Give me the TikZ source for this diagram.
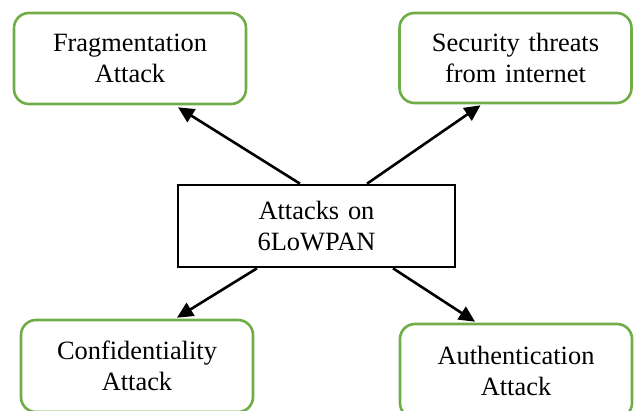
\documentclass[tikz,border=0pt]{standalone}
\usepackage{fontspec}
\setmainfont{Liberation Serif}
\usetikzlibrary{arrows.meta,calc}
\definecolor{boxgreen}{HTML}{70AD47}
\tikzset{
  leaf/.style={draw=boxgreen, line width=2.6pt, rounded corners=15pt, fill=white,
    inner sep=0pt, minimum width=232pt, text width=228pt, align=center,
    font=\fontsize{26.4}{30.4}\selectfont},
  hub/.style={draw=black, line width=2.6pt, fill=white, inner sep=0pt,
    minimum width=277pt, minimum height=82pt, text width=270pt, align=center,
    font=\fontsize{26.4}{30.4}\selectfont},
  link/.style={line width=2.6pt, -{Triangle[length=16pt,width=15pt]}}
}
\begin{document}
\begin{tikzpicture}[x=1pt,y=-1pt]
  \useasboundingbox (0,0) rectangle (639,411);
  \clip (0,0) rectangle (639,411);

  % centre topic
  \node[hub] (hub) at (316.5,226) {Attacks on\\6LoWPAN};

  % the four attack categories
  \node[leaf, minimum height=91pt] (frag) at (130,58.5) {Fragmentation\\Attack};
  \node[leaf, minimum height=90pt] (sec)  at (515.5,58) {Security threats\\from internet};
  \node[leaf, minimum height=92pt] (conf) at (137,366) {Confidentiality\\Attack};
  \node[leaf, minimum height=94pt] (auth) at (516,371) {Authentication\\Attack};

  % connectors from the centre outwards
  \draw[link] ($(hub.north)+(-16.5,0)$) -- ($(frag.south)+(48,2)$);
  \draw[link] ($(hub.north)+(50.5,0)$)  -- ($(sec.south)+(-35,1)$);
  \draw[link] ($(hub.south)+(-59.5,0)$) -- ($(conf.north)+(40,-1)$);
  \draw[link] ($(hub.south)+(76.5,0)$)  -- ($(auth.north)+(-41,-1)$);
\end{tikzpicture}
\end{document}
